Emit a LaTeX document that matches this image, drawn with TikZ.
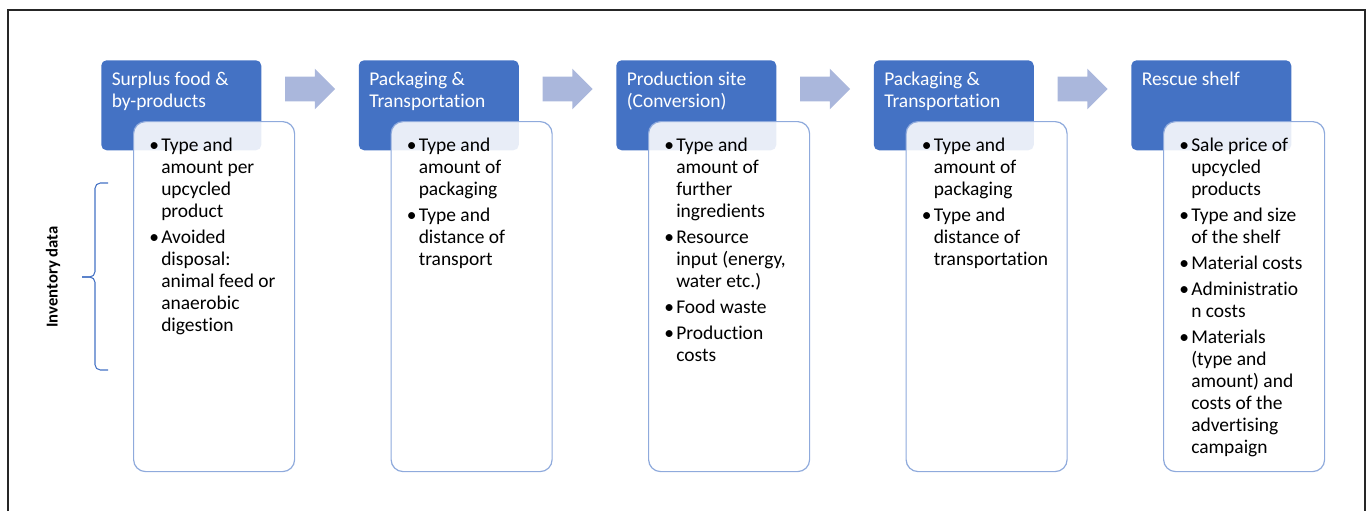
\documentclass[tikz,border=0pt]{standalone}
\usepackage{fontspec}
\setmainfont{Carlito}[Ligatures=NoCommon]
\usetikzlibrary{shapes.arrows}

\definecolor{headblue}{RGB}{68,114,196}
\definecolor{edgeblue}{RGB}{143,170,220}
\definecolor{flowblue}{RGB}{170,183,220}

% bullet and hanging indent for the list lines
\newcommand{\itm}{\strut\makebox[9pt][l]{\textbullet}}
\newcommand{\nxt}{\\\hspace*{9pt}}

\begin{document}
\begin{tikzpicture}[x=0.75pt,y=0.75pt,yscale=-1,
  headbox/.style={fill=headblue, rounded corners=4pt, minimum width=120pt, minimum height=67.5pt, inner sep=0pt, anchor=north west},
  infobox/.style={draw=edgeblue, line width=0.9pt, fill=white, fill opacity=0.88, rounded corners=9pt, minimum width=120.75pt, minimum height=262.5pt, inner sep=0pt, anchor=north west},
  headtext/.style={text=white, font=\fontsize{14.6pt}{16.5pt}\selectfont, align=left, inner sep=0pt, anchor=north west},
  infotext/.style={text=black, font=\fontsize{14.6pt}{16.5pt}\selectfont, align=left, inner sep=0pt, anchor=north west},
  flow/.style={single arrow, fill=flowblue, inner xsep=0pt, inner ysep=9pt, minimum height=37.5pt, single arrow head extend=6pt}]
\useasboundingbox (0,0) rectangle (1368,511);

%Frame
\draw [line width=1.5pt, black!85] (8,511) -- (8,10) -- (1365,10) -- (1365,511);

%Shape: Header boxes
\node [headbox] (head1) at (101,60) {};
\node [headbox] (head2) at (358.5,60) {};
\node [headbox] (head3) at (616,60) {};
\node [headbox] (head4) at (873.5,60) {};
\node [headbox] (head5) at (1131,60) {};

%Shape: Flow arrows
\node [flow] (arrow1) at (304,89) {};
\node [flow] (arrow2) at (561.5,89) {};
\node [flow] (arrow3) at (819,89) {};
\node [flow] (arrow4) at (1076.5,89) {};

%Shape: Data boxes
\node [infobox] (info1) at (133,121) {};
\node [infobox] (info2) at (390.5,121) {};
\node [infobox] (info3) at (648,121) {};
\node [infobox] (info4) at (905.5,121) {};
\node [infobox] (info5) at (1163,121) {};

% Text Node
\node [headtext] (title1) at (111.5,69.6) {\strut Surplus food \&\\by-products};
% Text Node
\node [headtext] (title2) at (369,69.6) {\strut Packaging \&\\Transportation};
% Text Node
\node [headtext] (title3) at (626.5,69.6) {\strut Production site\\(Conversion)};
% Text Node
\node [headtext] (title4) at (884,69.6) {\strut Packaging \&\\Transportation};
% Text Node
\node [headtext] (title5) at (1141.5,69.6) {\strut Rescue shelf};

% Text Node
\node [infotext] (list1) at (149,136) {\itm Type and\nxt amount per\nxt upcycled\nxt product\\[3pt]
  \itm Avoided\nxt disposal:\nxt animal feed or\nxt anaerobic\nxt digestion};
% Text Node
\node [infotext] (list2) at (406.5,136) {\itm Type and\nxt amount of\nxt packaging\\[3pt]
  \itm Type and\nxt distance of\nxt transport};
% Text Node
\node [infotext] (list3) at (664,136) {\itm Type and\nxt amount of\nxt further\nxt ingredients\\[3pt]
  \itm Resource\nxt input (energy,\nxt water etc.)\\[3pt]
  \itm Food waste\\[3pt]
  \itm Production\nxt costs};
% Text Node
\node [infotext] (list4) at (921.5,136) {\itm Type and\nxt amount of\nxt packaging\\[3pt]
  \itm Type and\nxt distance of\nxt transportation};
% Text Node
\node [infotext] (list5) at (1179,136) {\itm Sale price of\nxt upcycled\nxt products\\[3pt]
  \itm Type and size\nxt of the shelf\\[3pt]
  \itm Material costs\\[3pt]
  \itm Administratio\nxt n costs\\[3pt]
  \itm Materials\nxt (type and\nxt amount) and\nxt costs of the\nxt advertising\nxt campaign};

%Bracket and side label
\draw [headblue, line width=0.8pt, rounded corners=4pt] (108,183) -- (95,183) -- (95,277) -- (82,277);
\draw [headblue, line width=0.8pt, rounded corners=4pt] (82,277) -- (95,277) -- (95,370) -- (108,370);
\node [rotate=90, inner sep=0pt, font=\fontsize{12.5pt}{14pt}\selectfont\bfseries] (side) at (53,277) {Inventory data};

\end{tikzpicture}
\end{document}
